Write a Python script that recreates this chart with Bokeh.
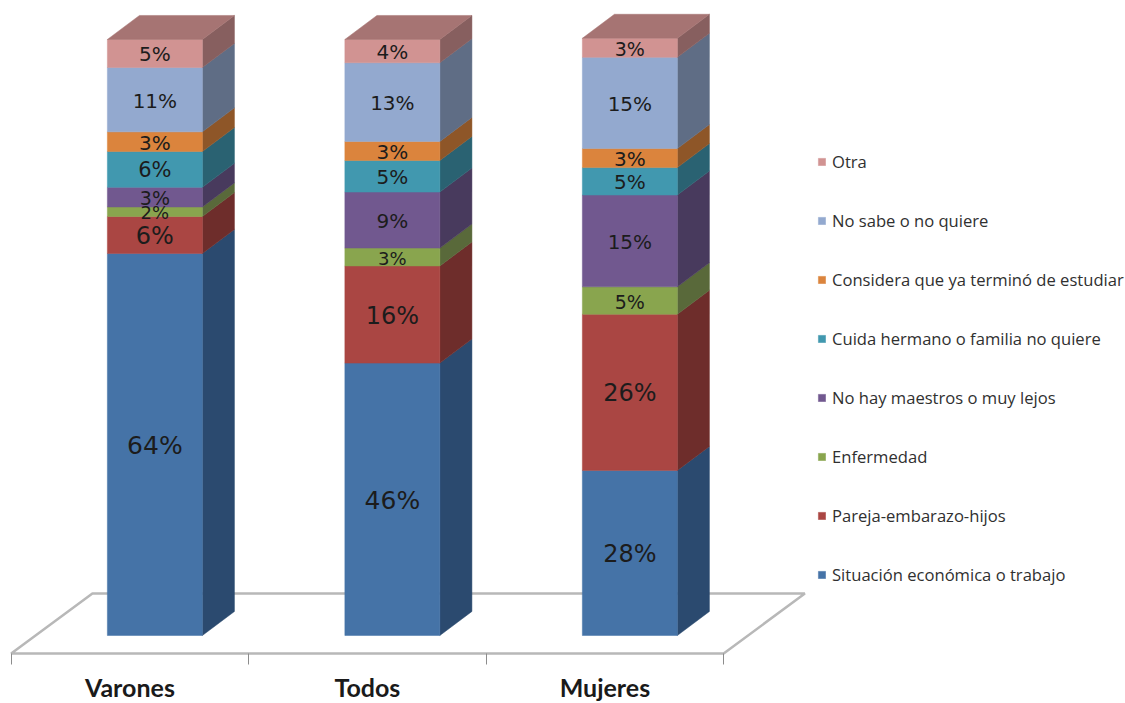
from bokeh.embed import file_html
from bokeh.models import ColumnDataSource, FixedTicker, Legend, LegendItem, Range1d
from bokeh.plotting import figure
from bokeh.resources import INLINE
from bokeh.core.properties import value

groups = ["Varones", "Todos", "Mujeres"]
series = [
    "Situación económica o trabajo",
    "Pareja-embarazo-hijos",
    "Enfermedad",
    "No hay maestros o muy lejos",
    "Cuida hermano o familia no quiere",
    "Considera que ya terminó de estudiar",
    "No sabe o no quiere",
    "Otra",
]

# Shares per group, bottom of the stack first; labels show them rounded.
varones = [64.1, 6.2, 1.6, 3.3, 6.0, 3.3, 10.8, 4.7]
todos = [45.7, 16.3, 3.0, 9.4, 5.3, 3.2, 13.2, 3.9]
mujeres = [27.7, 26.2, 4.6, 15.4, 4.6, 3.2, 15.3, 3.2]
shares = [varones, todos, mujeres]

label_sizes = [
    [25, 24, 18, 19, 21, 20, 20, 20],
    [25, 24, 18, 20, 20, 20, 20, 20],
    [24, 24, 19, 20, 20, 20, 20, 19],
]

front_colors = ["#4573a7", "#aa4643", "#89a54e", "#71588f", "#4198af", "#db843d", "#93a9cf", "#d19392"]
side_colors = ["#2b4a6f", "#6e2d2b", "#59693a", "#483a5d", "#2a6272", "#8e5628", "#5f6d85", "#875f5f"]
roof_color = "#a67473"

BAR_LEFT = -0.095     # bar offset from its category tick
BAR_WIDTH = 0.40
DEPTH_X = 0.135       # oblique depth of a bar
DEPTH_Y = 4.03
FLOOR_SHIFT_X = 0.342  # oblique depth of the floor
FLOOR_FRONT = -3.02
FLOOR_BACK = 7.05

p = figure(
    width=1125, height=703, output_backend="svg", toolbar_location=None,
    x_range=Range1d(-0.545, 4.192), y_range=Range1d(-11.41, 106.54),
    y_axis_location=None, min_border_left=0, min_border_right=0,
    min_border_top=0, min_border_bottom=0, outline_line_color=None,
    background_fill_color="white", border_fill_color="white",
)
p.grid.visible = False

# Floor plane under the columns
p.patch(
    [-0.5, 2.5, 2.5 + FLOOR_SHIFT_X, -0.5 + FLOOR_SHIFT_X],
    [FLOOR_FRONT, FLOOR_FRONT, FLOOR_BACK, FLOOR_BACK],
    fill_color="white", line_color="#b8b8b8", line_width=2.5,
)

# Category axis: ticks separate the groups, labels sit between them
ax = p.xaxis[0]
ax.fixed_location = FLOOR_FRONT
ax.ticker = FixedTicker(ticks=[0, 1, 2], minor_ticks=[-0.5, 0.5, 1.5, 2.5])
ax.major_label_overrides = {i: g for i, g in enumerate(groups)}
ax.major_tick_line_color = None
ax.major_tick_out = 11
ax.major_tick_in = 0
ax.minor_tick_line_color = "#8c8c8c"
ax.minor_tick_out = 11
ax.minor_tick_in = 0
ax.axis_line_color = None
ax.major_label_text_font = "Lato"
ax.major_label_text_font_style = "bold"
ax.major_label_text_font_size = "25px"
ax.major_label_text_color = "#1a1a1a"
ax.major_label_standoff = 8

legend_items = []
bottoms = [0.0, 0.0, 0.0]
for s, name in enumerate(series):
    lefts, rights, lows, highs = [], [], [], []
    side_x, side_y = [], []
    for g in range(len(groups)):
        low = bottoms[g]
        high = low + shares[g][s]
        left = g + BAR_LEFT
        right = left + BAR_WIDTH
        lefts.append(left)
        rights.append(right)
        lows.append(low)
        highs.append(high)
        side_x.append([right, right + DEPTH_X, right + DEPTH_X, right])
        side_y.append([low, low + DEPTH_Y, high + DEPTH_Y, high])
        bottoms[g] = high
    p.patches(side_x, side_y, fill_color=side_colors[s], line_color=side_colors[s], line_width=0.5)
    front = p.quad(left=lefts, right=rights, bottom=lows, top=highs,
                   fill_color=front_colors[s], line_color=front_colors[s], line_width=0.5)
    legend_items.append(LegendItem(label=name, renderers=[front]))

    labels = ColumnDataSource(dict(
        x=[(a + b) / 2 for a, b in zip(lefts, rights)],
        y=[(a + b) / 2 for a, b in zip(lows, highs)],
        text=[f"{shares[g][s]:.0f}%" for g in range(len(groups))],
        size=[f"{label_sizes[g][s]}px" for g in range(len(groups))],
    ))
    p.text("x", "y", text="text", source=labels, text_align="center", text_baseline="middle",
           y_offset=1, text_font=value("DejaVu Sans"), text_font_size="size", text_color="#1c1c1c",
           level="overlay")

# Roof of each column
roof_x, roof_y = [], []
for g in range(len(groups)):
    left = g + BAR_LEFT
    right = left + BAR_WIDTH
    roof_x.append([left, right, right + DEPTH_X, left + DEPTH_X])
    roof_y.append([bottoms[g], bottoms[g], bottoms[g] + DEPTH_Y, bottoms[g] + DEPTH_Y])
p.patches(roof_x, roof_y, fill_color=roof_color, line_color=roof_color, line_width=0.5)

legend = Legend(
    items=legend_items[::-1], location=(817, 117), spacing=36, padding=0, margin=0,
    glyph_width=9, glyph_height=9, label_standoff=6,
    border_line_color=None, background_fill_alpha=0,
    label_text_font="Open Sans", label_text_font_size="16.6px", label_text_color="#303030",
)
p.add_layout(legend)

open("out.html", "w").write(file_html(p, INLINE))
